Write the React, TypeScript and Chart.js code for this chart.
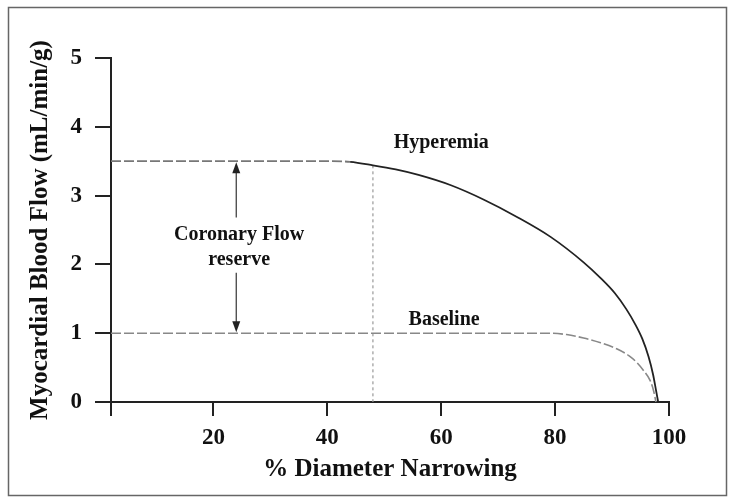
import React, { useEffect, useRef } from "react";
import { Chart, registerables } from "chart.js";

Chart.register(...registerables);

// ---- data ----
const hyperX = [2, 10, 20, 30, 40, 44, 48, 52, 56, 61.7, 67.5, 73.3, 79.2, 85, 88, 90.5, 92.5, 94, 95.3, 96.4, 97.2, 97.7, 98.1];
const hyperY = [3.5, 3.5, 3.5, 3.5, 3.5, 3.49, 3.44, 3.38, 3.3, 3.15, 2.94, 2.69, 2.4, 2.03, 1.8, 1.58, 1.35, 1.14, 0.92, 0.66, 0.4, 0.18, 0];
const baseX = [2, 20, 40, 60, 79, 82, 85, 88, 90.9, 93, 94.4, 95.6, 96.7, 97.3, 97.7];
const baseY = [1, 1, 1, 1, 1, 0.98, 0.93, 0.86, 0.77, 0.67, 0.57, 0.45, 0.31, 0.16, 0];
const markerX = [48, 48];
const markerY = [3.44, 0];
const xTickValues = [2, 20, 40, 60, 80, 100];
const yTickValues = [0, 1, 2, 3, 4, 5];
const flatEndX = 44;

const arrowX = 24;
const arrowTop = 3.5;
const arrowBottom = 1;
const arrowGapTop = 2.68;
const arrowGapBottom = 1.88;

const notes = [
  { text: "Coronary Flow", x: 24.5, y: 2.43 },
  { text: "reserve", x: 24.5, y: 2.07 },
  { text: "Hyperemia", x: 60, y: 3.76 },
  { text: "Baseline", x: 60.5, y: 1.2 },
];

const SERIF = "'Liberation Serif', 'Times New Roman', serif";

const annotationPlugin = {
  id: "annot",
  afterDatasetsDraw(chart: any) {
    const { ctx, scales } = chart;
    const xs = scales.x;
    const ys = scales.y;
    ctx.save();
    const ax = xs.getPixelForValue(arrowX);
    const yTop = ys.getPixelForValue(arrowTop);
    const yBot = ys.getPixelForValue(arrowBottom);
    const gT = ys.getPixelForValue(arrowGapTop);
    const gB = ys.getPixelForValue(arrowGapBottom);
    const head = 11;
    ctx.strokeStyle = "#444";
    ctx.fillStyle = "#222";
    ctx.lineWidth = 1.3;
    ctx.beginPath();
    ctx.moveTo(ax, yTop + head);
    ctx.lineTo(ax, gT);
    ctx.moveTo(ax, gB);
    ctx.lineTo(ax, yBot - head);
    ctx.stroke();
    ctx.beginPath();
    ctx.moveTo(ax, yTop + 1);
    ctx.lineTo(ax - 4, yTop + head + 1);
    ctx.lineTo(ax + 4, yTop + head + 1);
    ctx.closePath();
    ctx.fill();
    ctx.beginPath();
    ctx.moveTo(ax, yBot - 1);
    ctx.lineTo(ax - 4, yBot - head - 1);
    ctx.lineTo(ax + 4, yBot - head - 1);
    ctx.closePath();
    ctx.fill();
    ctx.font = `bold 20px ${SERIF}`;
    ctx.fillStyle = "#111";
    ctx.textAlign = "center";
    ctx.textBaseline = "middle";
    for (const n of notes) {
      ctx.fillText(n.text, xs.getPixelForValue(n.x), ys.getPixelForValue(n.y));
    }
    ctx.restore();
  },
  afterDraw(chart: any) {
    const { ctx } = chart;
    ctx.save();
    ctx.strokeStyle = "#666";
    ctx.lineWidth = 1.5;
    ctx.strokeRect(8.5, 7.5, 718, 488);
    ctx.restore();
  },
};

export default function App() {
  const ref = useRef<HTMLCanvasElement | null>(null);
  useEffect(() => {
    if (!ref.current) return;
    const chart = new Chart(ref.current, {
      type: "line",
      data: {
        datasets: [
          {
            label: "Hyperemia",
            data: hyperX.map((x, i) => ({ x, y: hyperY[i] })),
            borderColor: "#222",
            borderWidth: 1.8,
            pointRadius: 0,
            cubicInterpolationMode: "monotone",
            segment: {
              borderDash: (c: any) => (c.p1.parsed.x <= flatEndX ? [10, 3] : undefined),
              borderColor: (c: any) => (c.p1.parsed.x <= flatEndX ? "#777" : "#222"),
            },
          },
          {
            label: "Baseline",
            data: baseX.map((x, i) => ({ x, y: baseY[i] })),
            borderColor: "#888",
            borderWidth: 1.6,
            borderDash: [10, 3],
            pointRadius: 0,
            cubicInterpolationMode: "monotone",
          },
          {
            label: "marker",
            data: markerX.map((x, i) => ({ x, y: markerY[i] })),
            borderColor: "#999",
            borderWidth: 1.2,
            borderDash: [3, 3],
            pointRadius: 0,
          },
        ],
      },
      options: {
        animation: false,
        responsive: false,
        layout: { padding: { top: 58, right: 63, bottom: 0, left: 0 } },
        plugins: { legend: { display: false }, tooltip: { enabled: false } },
        scales: {
          x: {
            type: "linear",
            min: 2,
            max: 100,
            afterBuildTicks: (s: any) => {
              s.ticks = xTickValues.map((v) => ({ value: v }));
            },
            afterFit: (s: any) => {
              s.height = 100;
            },
            ticks: {
              callback: (v: any) => (v === 2 ? "" : String(v)),
              font: { family: SERIF, size: 23, weight: "bold" },
              color: "#111",
              padding: 8,
              maxRotation: 0,
              autoSkip: false,
            },
            grid: { drawOnChartArea: false, drawTicks: true, tickLength: 14, color: "#222", lineWidth: 2 },
            border: { display: true, color: "#222", width: 2 },
            title: {
              display: true,
              text: "% Diameter Narrowing",
              font: { family: SERIF, size: 25, weight: "bold" },
              color: "#111",
              padding: { top: 0, bottom: 17 },
            },
          },
          y: {
            type: "linear",
            min: 0,
            max: 5,
            afterBuildTicks: (s: any) => {
              s.ticks = yTickValues.map((v) => ({ value: v }));
            },
            afterFit: (s: any) => {
              s.width = 111;
            },
            ticks: {
              font: { family: SERIF, size: 23, weight: "bold" },
              color: "#111",
              padding: 13,
            },
            grid: { drawOnChartArea: false, drawTicks: true, tickLength: 16, color: "#222", lineWidth: 2 },
            border: { display: true, color: "#222", width: 2 },
            title: {
              display: true,
              text: "Myocardial Blood Flow (mL/min/g)",
              font: { family: SERIF, size: 25, weight: "bold" },
              color: "#111",
              padding: { top: 26, bottom: 0 },
            },
          },
        },
      },
      plugins: [annotationPlugin],
    } as any);
    return () => chart.destroy();
  }, []);
  return (
    <div style={{ position: "absolute", left: 0, top: 0, width: 732, height: 502, background: "#fff" }}>
      <canvas ref={ref} width={732} height={502} style={{ display: "block" }} />
    </div>
  );
}
